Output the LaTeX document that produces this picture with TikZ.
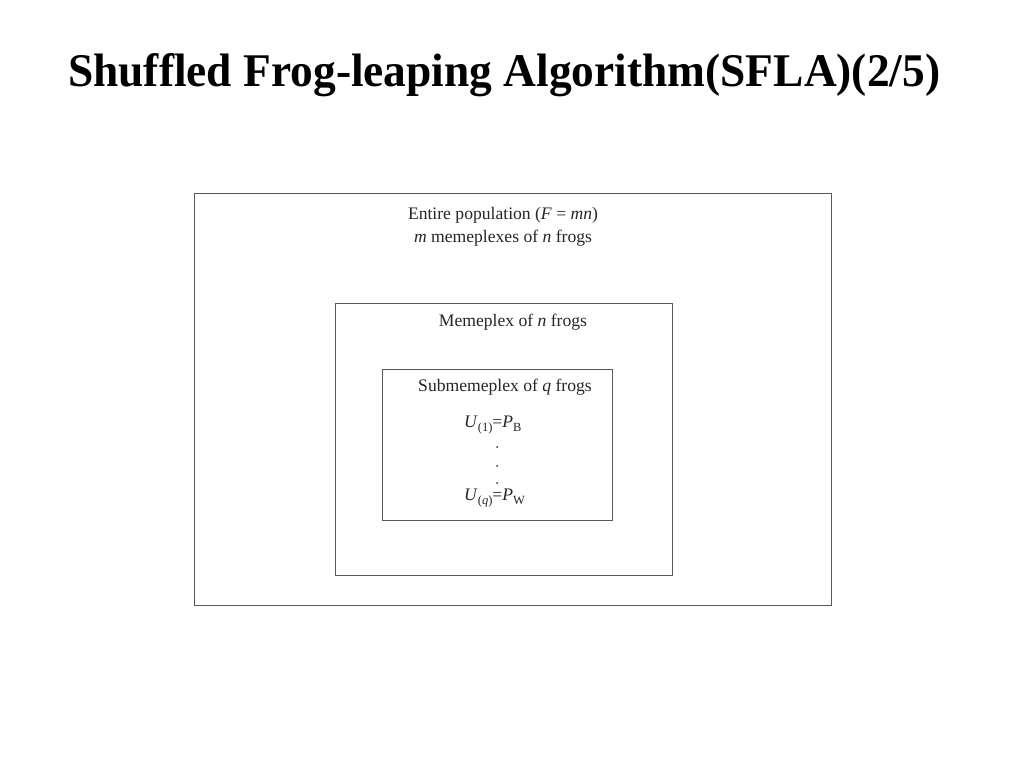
\documentclass[tikz,border=0pt]{standalone}
\usepackage{fontspec}
\setmainfont{Liberation Serif}
\newcommand{\lowsub}[1]{\raisebox{-0.5ex}{\fontsize{12.5}{13}\selectfont #1}}
\begin{document}
\begin{tikzpicture}[x=1pt,y=-1pt,
  boxline/.style={draw=black!65, line width=0.9pt},
  lbl/.style={inner sep=0pt, font=\fontsize{17.6}{20}\selectfont, text=black!85}]
\useasboundingbox (0,0) rectangle (1024,768);
\fill[white] (0,0) rectangle (1024,768);
\node[anchor=base west, inner sep=0pt] (title) at (68,86)
  {\resizebox{872pt}{33pt}{\fontsize{48}{56}\selectfont\bfseries Shuffled Frog-leaping Algorithm(SFLA)(2/5)}};
\draw[boxline] (194,193) rectangle (831,605);
\draw[boxline] (335,303) rectangle (672,575);
\draw[boxline] (382,369) rectangle (612,520);
\node[lbl] (e1) at (503,215) {Entire population (\textit{F} = \textit{mn})};
\node[lbl] (e2) at (503,238) {\textit{m} memeplexes of \textit{n} frogs};
\node[lbl] (m1) at (513,322) {Memeplex of \textit{n} frogs};
\node[lbl] (s1) at (505,387) {Submemeplex of \textit{q} frogs};
\node[lbl, anchor=west] (u1) at (464,425) {\textit{U}\lowsub{(1)}=\textit{P}\lowsub{B}};
\node[lbl, anchor=west] (uq) at (464,498) {\textit{U}\lowsub{(\textit{q})}=\textit{P}\lowsub{W}};
\foreach \yy in {447,466,483} \fill[black!80] (497,\yy) circle (1.0);
\end{tikzpicture}
\end{document}
